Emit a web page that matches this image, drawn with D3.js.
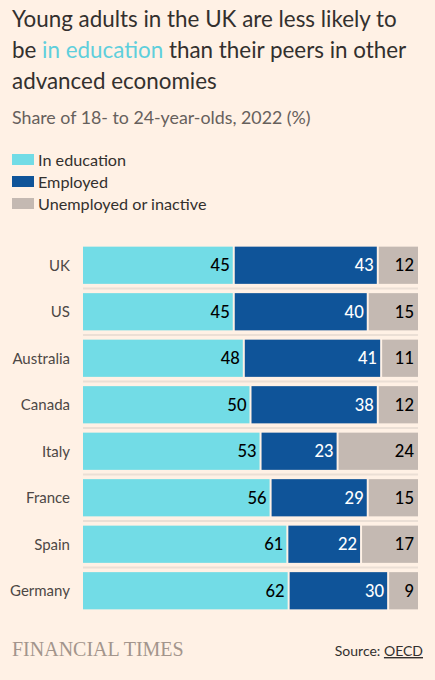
<!DOCTYPE html>
<html>
<head>
<meta charset="utf-8">
<script src="https://cdn.jsdelivr.net/npm/d3@7"></script>
<style>
  body { margin: 0; background: #fff1e5; }
  svg { display: block; font-family: Lato, 'Noto Sans', sans-serif; }
</style>
</head>
<body>
<div id="chart"></div>
<script>
// Data
let countries = ['UK', 'US', 'Australia', 'Canada', 'Italy', 'France', 'Spain', 'Germany'];
let education = [45, 45, 48, 50, 53, 56, 61, 62];
let employed = [43, 40, 41, 38, 23, 29, 22, 30];
let inactive = [12, 15, 11, 12, 24, 15, 17, 9];
let seriesNames = ['In education', 'Employed', 'Unemployed or inactive'];
let seriesColors = ['#72dce6', '#0f5499', '#c4b9b2'];
let labelColors = ['#000', '#fff', '#000'];

let width = 435;
let height = 680;

let svg = d3.select('#chart')
	.append('svg')
	.attr('width', width)
	.attr('height', height);

svg.append('rect')
	.attr('width', width)
	.attr('height', height)
	.attr('fill', '#fff1e5');

// Title
let title = svg.append('g').attr('font-size', 22.4).attr('fill', '#33302e');
title.append('text').attr('x', 12).attr('y', 27).text('Young adults in the UK are less likely to');
let t2 = title.append('text').attr('x', 12).attr('y', 58);
t2.append('tspan').text('be ');
t2.append('tspan').attr('fill', '#5fcfdc').text('in education');
t2.append('tspan').text(' than their peers in other');
title.append('text').attr('x', 12).attr('y', 89).text('advanced economies');

svg.append('text')
	.attr('x', 12)
	.attr('y', 124)
	.attr('font-size', 17.8)
	.attr('fill', '#66605c')
	.text('Share of 18- to 24-year-olds, 2022 (%)');

// Legend
let legend = svg.append('g');
seriesNames.forEach(function(name, i){
	legend.append('rect')
		.attr('x', 12)
		.attr('y', 154 + i * 22)
		.attr('width', 22)
		.attr('height', 11)
		.attr('fill', seriesColors[i]);
	legend.append('text')
		.attr('x', 38)
		.attr('y', 165.5 + i * 22)
		.attr('font-size', 16.2)
		.attr('fill', '#33302e')
		.text(name);
});

// Bars
let rows = countries.map(function(c, i){
	return {country: c, values: [education[i], employed[i], inactive[i]]};
});

let y = d3.scaleBand()
	.domain(countries)
	.range([242, 614])
	.paddingInner(0.2)
	.paddingOuter(0.1);

let bars = svg.append('g');

rows.forEach(function(row, i){
	let total = d3.sum(row.values);
	let x = d3.scaleLinear().domain([0, total]).range([83, 418]);
	let g = bars.append('g');
	let cum = 0;

	if(i > 0){
		g.append('rect')
			.attr('x', 83)
			.attr('width', 335)
			.attr('y', y(row.country) - y.step() * y.paddingInner() / 2 - 1)
			.attr('height', 2)
			.attr('fill', '#ebdfd5');
	}

	row.values.forEach(function(v, k){
		let x0 = x(cum);
		let x1 = x(cum + v);
		cum += v;
		g.append('rect')
			.attr('x', x0 + (k > 0 ? 1 : 0))
			.attr('y', y(row.country))
			.attr('width', x1 - x0 - (k > 0 ? 1 : 0) - (k < 2 ? 1 : 0))
			.attr('height', y.bandwidth())
			.attr('fill', seriesColors[k]);
		g.append('text')
			.attr('x', x1 - 4)
			.attr('y', y(row.country) + y.bandwidth() / 2)
			.attr('dy', '0.36em')
			.attr('text-anchor', 'end')
			.attr('font-size', 16.5)
			.attr('font-weight', 500)
			.attr('fill', labelColors[k])
			.text(v);
	});

	g.append('text')
		.attr('x', 70)
		.attr('y', y(row.country) + y.bandwidth() / 2)
		.attr('dy', '0.36em')
		.attr('text-anchor', 'end')
		.attr('font-size', 15)
		.attr('fill', '#4d4845')
		.text(row.country);
});

// Footer
svg.append('text')
	.attr('x', 12)
	.attr('y', 656)
	.attr('font-family', "'Liberation Serif', 'DejaVu Serif', serif")
	.attr('font-size', 20)
	.attr('fill', '#a3958c')
	.text('FINANCIAL TIMES');

let src = svg.append('text')
	.attr('x', 423)
	.attr('y', 656)
	.attr('text-anchor', 'end')
	.attr('font-size', 14)
	.attr('fill', '#33302e');
src.append('tspan').text('Source: ');
src.append('tspan').attr('text-decoration', 'underline').text('OECD');
</script>
</body>
</html>
